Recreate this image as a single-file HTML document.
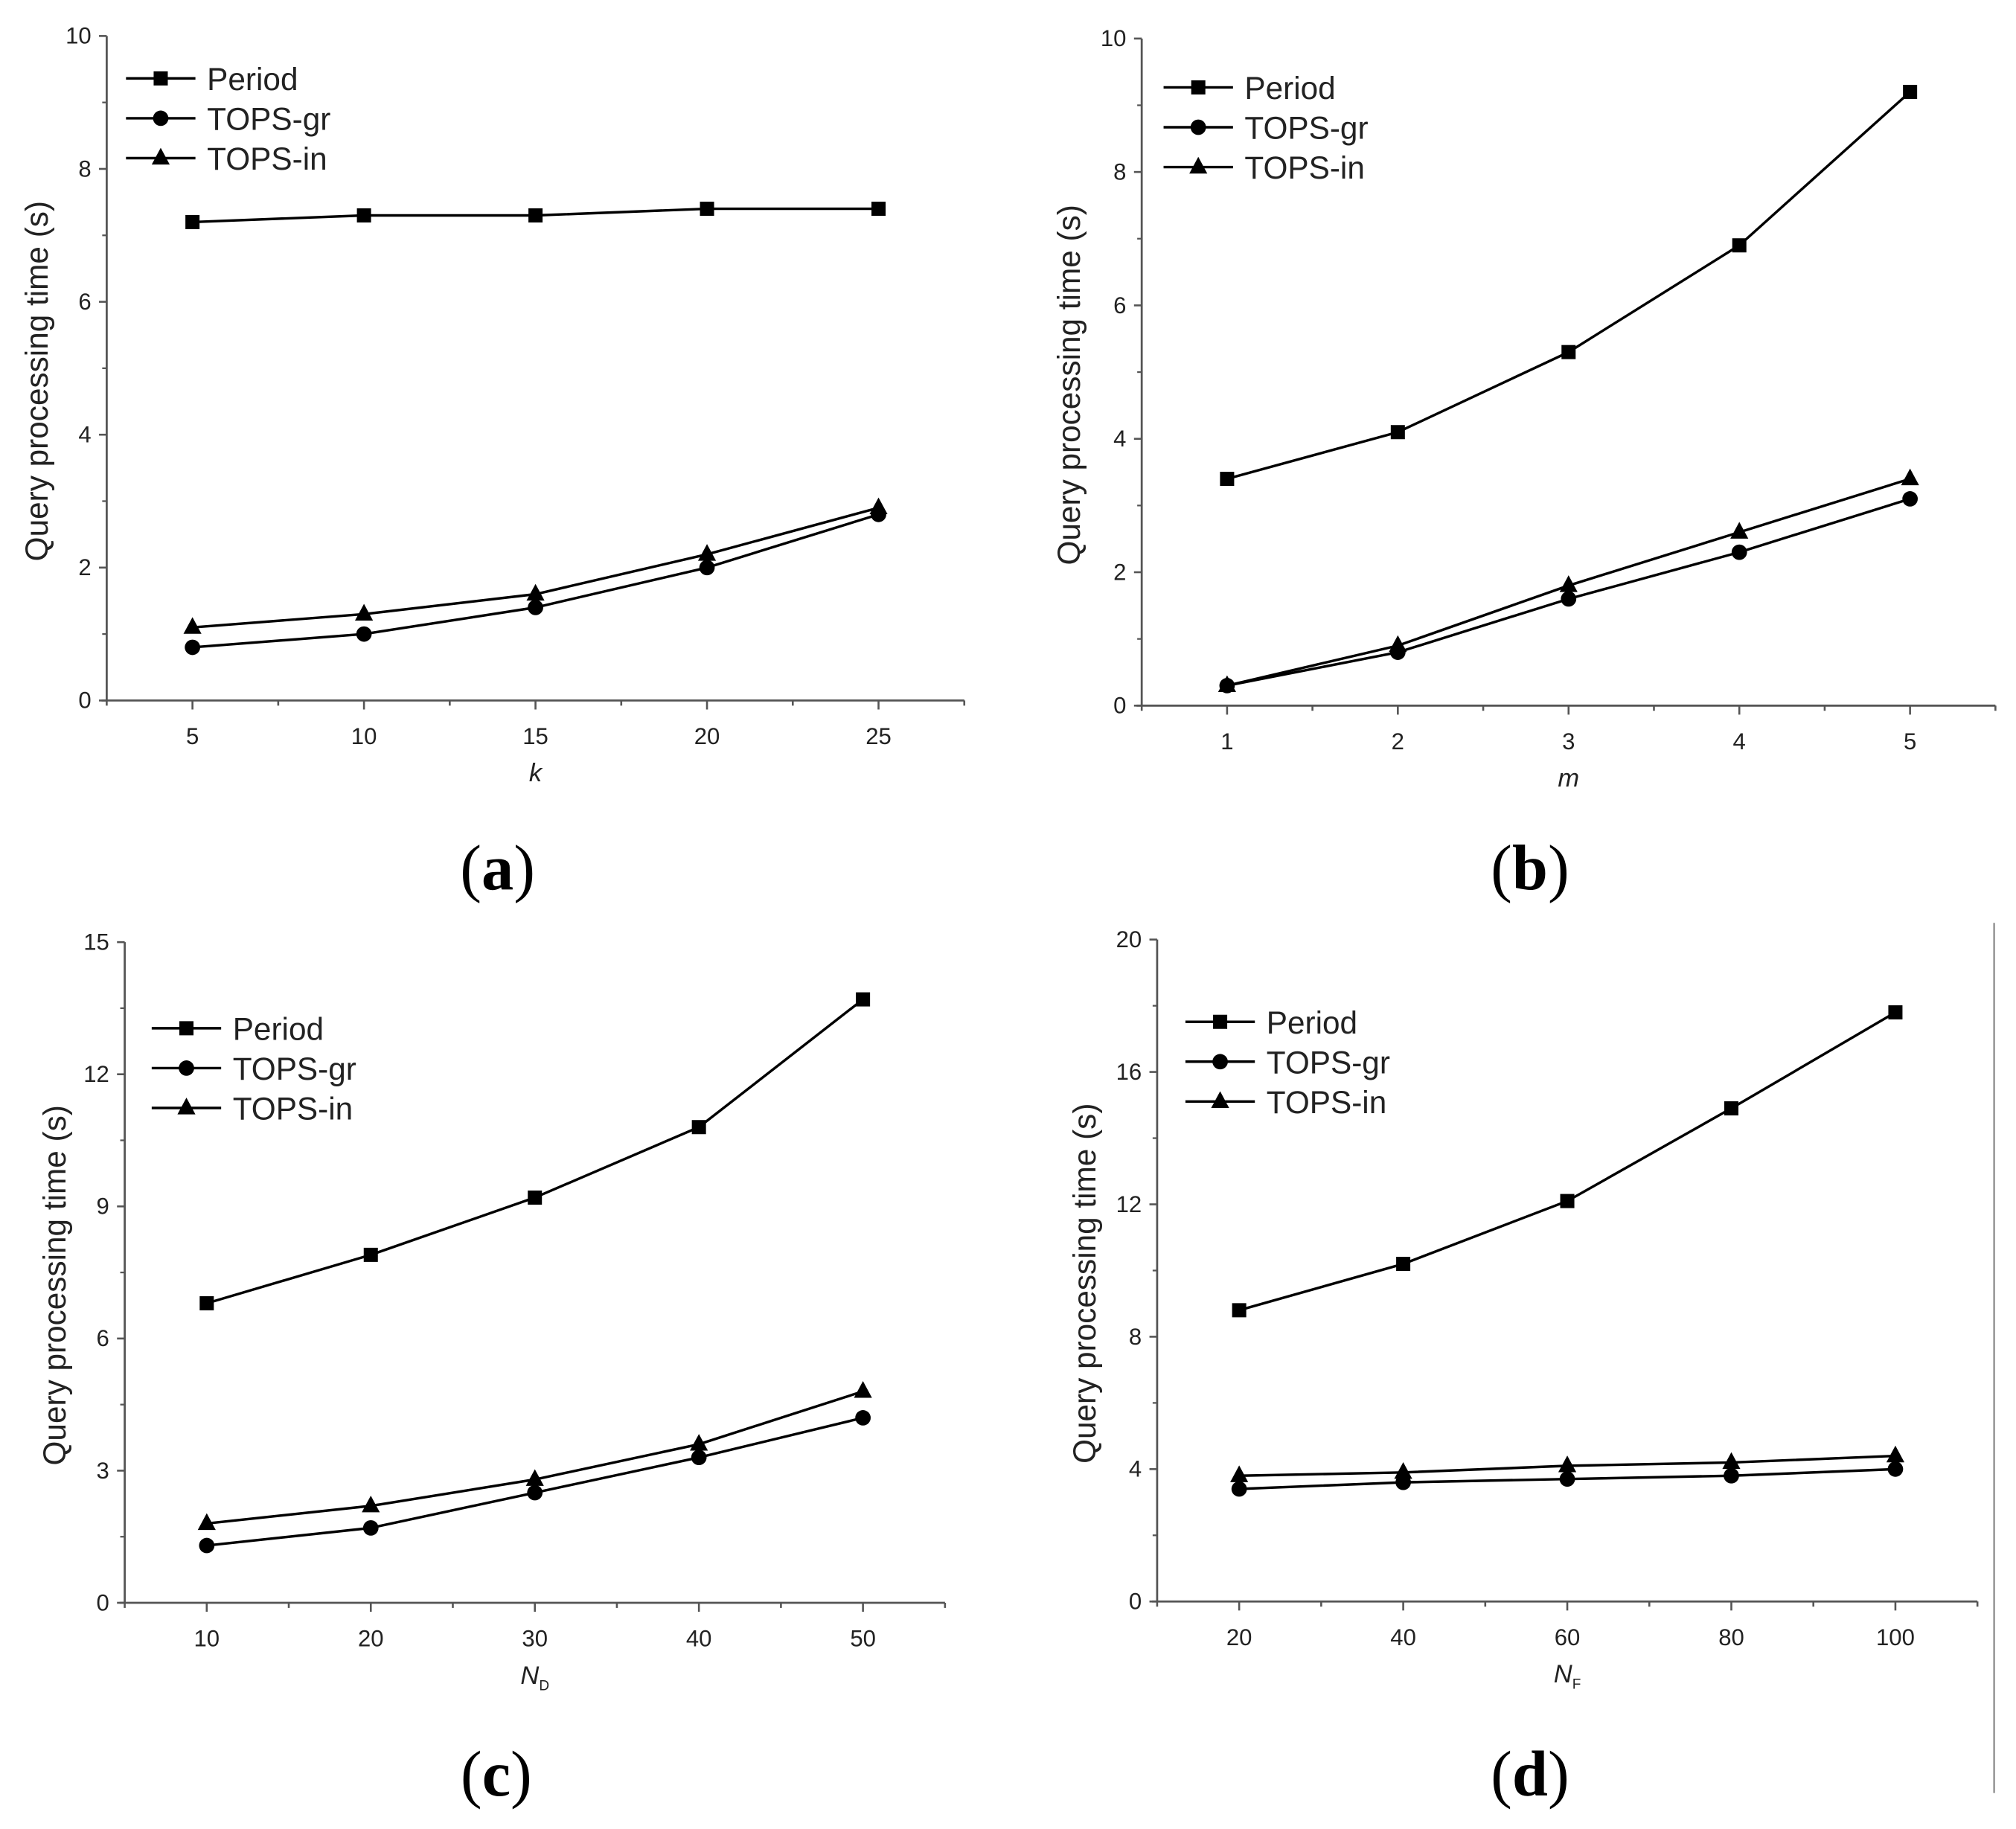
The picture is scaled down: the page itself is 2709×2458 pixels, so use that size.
<!DOCTYPE html>
<html><head><meta charset="utf-8"><style>
html,body{margin:0;padding:0;background:#fff;}
svg{display:block;}
text{font-family:"Liberation Sans",Arial,sans-serif;fill:#222;}
.cap{font-family:"Liberation Serif","Times New Roman",serif;fill:#000;}
</style></head><body>
<svg id="fig" width="2709" height="2458" viewBox="0 0 1568 1423" preserveAspectRatio="none" xmlns="http://www.w3.org/2000/svg">
<rect width="1568" height="1423" fill="#fff"/>
<line x1="1551" y1="718" x2="1551" y2="1395" stroke="#999" stroke-width="1.5"/>
</svg>
<script>
const seriesNames = ["Period","TOPS-gr","TOPS-in"];
const xA = [5,10,15,20,25];
const periodA = [7.2,7.3,7.3,7.4,7.4];
const grA = [0.8,1.0,1.4,2.0,2.8];
const inA = [1.1,1.3,1.6,2.2,2.9];
const yTicksA = [0,2,4,6,8,10];
const xB = [1,2,3,4,5];
const periodB = [3.4,4.1,5.3,6.9,9.2];
const grB = [0.3,0.8,1.6,2.3,3.1];
const inB = [0.3,0.9,1.8,2.6,3.4];
const yTicksB = [0,2,4,6,8,10];
const xC = [10,20,30,40,50];
const periodC = [6.8,7.9,9.2,10.8,13.7];
const grC = [1.3,1.7,2.5,3.3,4.2];
const inC = [1.8,2.2,2.8,3.6,4.8];
const yTicksC = [0,3,6,9,12,15];
const xD = [20,40,60,80,100];
const periodD = [8.8,10.2,12.1,14.9,17.8];
const grD = [3.4,3.6,3.7,3.8,4.0];
const inD = [3.8,3.9,4.1,4.2,4.4];
const yTicksD = [0,4,8,12,16,20];

const NS="http://www.w3.org/2000/svg";
const svg=document.getElementById('fig');
function mk(tag,attrs,parent){const e=document.createElementNS(NS,tag);for(const k in attrs)e.setAttribute(k,attrs[k]);(parent||svg).appendChild(e);return e;}

function marker(g,type,x,y){
  let m;
  if(type===0){m=mk('rect',{x:x-5.5,y:y-5.5,width:11,height:11,fill:'#000'},g);}
  else if(type===1){m=mk('circle',{cx:x,cy:y,r:6,fill:'#000'},g);}
  else {m=mk('polygon',{points:`${x},${y-8} ${x-7},${y+5} ${x+7},${y+5}`,fill:'#000'},g);}
  
  
}

function panel(p){
  const g=mk('g',{});
  
  
  const sx=v=>p.x0+(v-p.xmin)/(p.xmax-p.xmin)*(p.x1-p.x0);
  const sy=v=>p.y0-(v-p.ymin)/(p.ymax-p.ymin)*(p.y0-p.y1);
  const ax=mk('line',{x1:p.x0,y1:p.y0,x2:p.x0,y2:p.y1,stroke:'#555','stroke-width':1.6},g);
  
  const bx=mk('line',{x1:p.x0-4,y1:p.y0,x2:p.x1,y2:p.y0,stroke:'#555','stroke-width':1.6},g);
  
  const yt=p.yticks;
  yt.forEach((v,i)=>{
    const y=sy(v);
    mk('line',{x1:p.x0-6,y1:y,x2:p.x0,y2:y,stroke:'#555','stroke-width':1.5},g);
    const t=mk('text',{x:p.x0-12,y:y+6,'text-anchor':'end','font-size':18},g);
    t.textContent=v;
    
    if(i<yt.length-1){const m=sy((v+yt[i+1])/2);mk('line',{x1:p.x0-3.5,y1:m,x2:p.x0,y2:m,stroke:'#555','stroke-width':1.3},g);}
  });
  const xs=p.xs, step=xs[1]-xs[0];
  for(let v=xs[0]-step/2; v<=p.xmax+1e-9; v+=step/2){
    if(v<p.xmin-1e-9)continue;
    const major=xs.some(q=>Math.abs(q-v)<1e-9);
    const x=sx(v);
    mk('line',{x1:x,y1:p.y0,x2:x,y2:p.y0+(major?7:4),stroke:'#555','stroke-width':1.5},g);
  }
  xs.forEach(v=>{
    const t=mk('text',{x:sx(v),y:p.y0+34,'text-anchor':'middle','font-size':18},g);
    t.textContent=v;
    
  });
  const xt=mk('text',{x:(sx(xs[0])+sx(xs[4]))/2,y:p.y0+63,'text-anchor':'middle','font-size':20,'font-style':'italic'},g);
  xt.textContent=p.xlabel;
  if(p.sub){const s=mk('tspan',{'font-size':11,'font-style':'normal',dy:5},xt);s.textContent=p.sub;}
  
  const cy=(p.y0+p.y1)/2+10;
  const yl=mk('text',{x:p.ylx,y:cy,'text-anchor':'middle','font-size':24.5,transform:`rotate(-90 ${p.ylx} ${cy})`},g);
  yl.textContent='Query processing time (s)';
  
  p.series.forEach((vals,si)=>{
    const pts=p.xs.map((x,i)=>sx(x)+','+sy(vals[i])).join(' ');
    const pl=mk('polyline',{points:pts,fill:'none',stroke:'#000','stroke-width':2},g);
    
    p.xs.forEach((x,i)=>marker(g,si,sx(x),sy(vals[i])));
  });
  seriesNames.forEach((n,si)=>{
    const ly=p.ly+si*31;
    const lg=mk('g',{},g);
    
    
    mk('line',{x1:p.lx,y1:ly,x2:p.lx+54,y2:ly,stroke:'#000','stroke-width':2},lg);
    marker(lg,si,p.lx+27,ly);
    const t=mk('text',{x:p.lx+63,y:ly+9,'font-size':24.5},lg);t.textContent=n;
  });
  const c=mk('text',{x:p.capx,y:p.capy,'text-anchor':'middle','font-size':50,class:'cap'},g);
  c.innerHTML='(<tspan font-weight="bold">'+p.id+'</tspan>)';
  
}

panel({id:'a',x0:83,x1:750,y0:545,y1:28,xmin:2.5,xmax:27.5,ymin:0,ymax:10,xs:xA,yticks:yTicksA,series:[periodA,grA,inA],xlabel:'k',ylx:37,lx:98,ly:61,capx:387,capy:692});
panel({id:'b',x0:888,x1:1552,y0:549,y1:30,xmin:0.5,xmax:5.5,ymin:0,ymax:10,xs:xB,yticks:yTicksB,series:[periodB,grB,inB],xlabel:'m',ylx:840,lx:905,ly:68,capx:1190,capy:692});
panel({id:'c',x0:97,x1:735,y0:1247,y1:733,xmin:5,xmax:55,ymin:0,ymax:15,xs:xC,yticks:yTicksC,series:[periodC,grC,inC],xlabel:'N',sub:'D',ylx:51,lx:118,ly:800,capx:386,capy:1397});
panel({id:'d',x0:900,x1:1538,y0:1246,y1:731,xmin:10,xmax:110,ymin:0,ymax:20,xs:xD,yticks:yTicksD,series:[periodD,grD,inD],xlabel:'N',sub:'F',ylx:852,lx:922,ly:795,capx:1190,capy:1397});
</script>
</body></html>
